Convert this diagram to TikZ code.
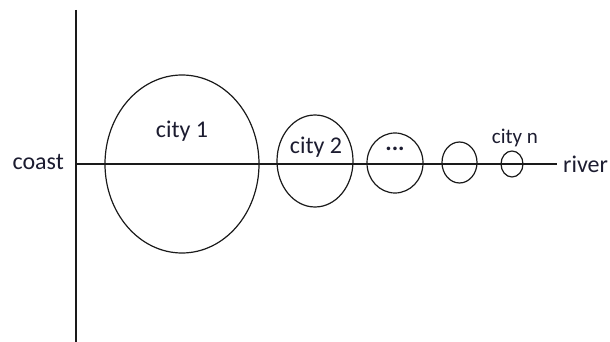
\documentclass[tikz,border=0pt]{standalone}
\usepackage{fontspec}
\setmainfont{Carlito}
\usetikzlibrary{shapes.geometric}
\definecolor{ink}{HTML}{1A1A1A}
\definecolor{txt}{HTML}{1C1C30}
\tikzset{
  city/.style={draw=ink, ellipse, line width=1.2pt, inner sep=0pt},
  lbl/.style={text=txt, font=\fontsize{24}{24}\selectfont, inner sep=0pt},
  lblsmall/.style={text=txt, font=\fontsize{21}{21}\selectfont, inner sep=0pt},
  axis/.style={draw=ink, line width=1.3pt}
}
\begin{document}
\begin{tikzpicture}[x=1pt,y=-1pt]
\useasboundingbox (0,0) rectangle (610,342);
\coordinate (ct) at (76,10);
\coordinate (cb) at (76,342);
\coordinate (r0) at (76,164);
\coordinate (r1) at (557,164);
\draw[axis] (ct) -- (cb);
\draw[axis] (r0) -- (r1);
\node[city, minimum width=154pt, minimum height=178pt] (c1) at (182,164) {};
\node[city, minimum width=76pt, minimum height=92pt] (c2) at (315,161) {};
\node[city, minimum width=56pt, minimum height=60pt] (c3) at (395,163) {};
\node[city, minimum width=35pt, minimum height=41pt] (c4) at (459.5,162.5) {};
\node[city, minimum width=22pt, minimum height=26pt] (c5) at (512,164) {};
\node[lbl, anchor=east] (coast) at (64,162) {coast};
\node[lbl, anchor=west] (river) at (563,164) {river};
\node[lbl] (t1) at (182,131) {city 1};
\node[lbl] (t2) at (316,147) {city 2};
\node[lbl] (t3) at (395,149) {\textbf{...}};
\node[lblsmall] (tn) at (515,138) {city n};
\end{tikzpicture}
\end{document}
